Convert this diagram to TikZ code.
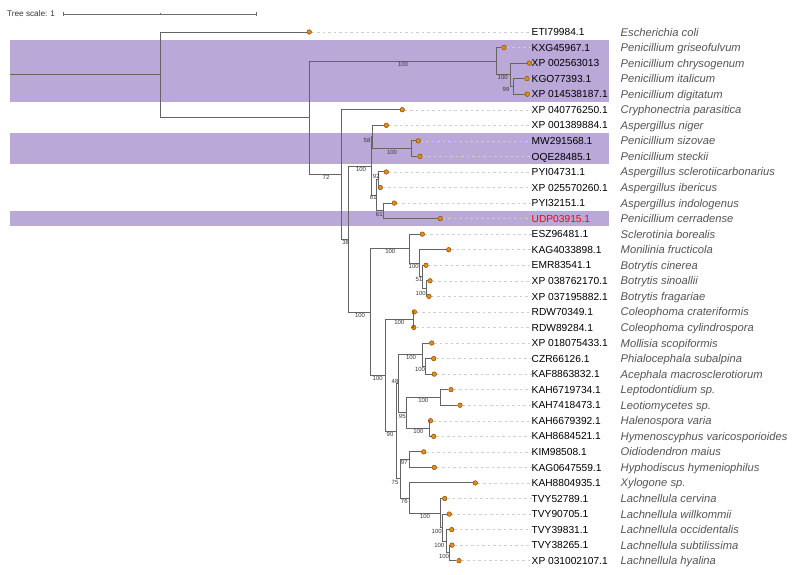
\documentclass[tikz,border=0pt]{standalone}
\usepackage{fontspec}
\setmainfont{Liberation Sans}
\definecolor{treegrey}{RGB}{100,100,100}
\definecolor{dotorange}{RGB}{228,140,22}
\definecolor{dotedge}{RGB}{125,72,0}
\definecolor{leadgrey}{RGB}{205,205,205}
\definecolor{spgrey}{RGB}{85,85,85}
\definecolor{bsgrey}{RGB}{55,55,55}
\definecolor{bandpurple}{RGB}{185,168,216}
\definecolor{scalegrey}{RGB}{110,110,110}
\begin{document}
\begin{tikzpicture}[x=1pt,y=-1pt,
  br/.style={draw=treegrey, line width=1pt},
  leafdot/.style={circle, inner sep=0pt, minimum size=4.6pt, fill=dotorange, draw=dotedge, line width=0.45pt},
  leader/.style={draw=leadgrey, line width=0.5pt, dash pattern=on 2.5pt off 3pt},
  idlab/.style={anchor=base west, inner sep=0pt, font=\fontsize{10.2}{12}\selectfont},
  splab/.style={anchor=base west, inner sep=0pt, font=\fontsize{11.2}{13}\selectfont\itshape, text=spgrey},
  bs/.style={inner sep=0pt, font=\fontsize{6}{6}\selectfont, text=bsgrey},
  band/.style={fill=bandpurple, draw=none},
  scalebar/.style={draw=scalegrey, line width=0.6pt}]
\useasboundingbox[fill=white] (0,0) rectangle (797,574);

% highlighted bands
\fill[band] (10,39.8) rectangle (609.3,102.0);
\fill[band] (10,133.1) rectangle (609.3,164.2);
\fill[band] (10,210.8) rectangle (609.3,226.4);

% tree scale
\node[anchor=west, inner sep=0pt, font=\fontsize{8.2}{10}\selectfont, text=bsgrey] (ts) at (7,14) {Tree scale: 1};
\coordinate (sb0) at (63,14);
\coordinate (sb1) at (256.7,14);
\draw[scalebar] (sb0) -- (sb1);
\draw[scalebar] (63,12) -- (63,16);
\draw[scalebar] (256.7,12) -- (256.7,16);
\draw[scalebar] (160,13.2) -- (160,14.8);

% leaves
\foreach \i/\x/\cc/\idt/\spt in {
0/309.3/black/ETI79984.1/Escherichia coli,
1/504/black/KXG45967.1/Penicillium griseofulvum,
2/529.5/black/XP 002563013/Penicillium chrysogenum,
3/527/black/KGO77393.1/Penicillium italicum,
4/527.3/black/XP 014538187.1/Penicillium digitatum,
5/402.3/black/XP 040776250.1/Cryphonectria parasitica,
6/386.3/black/XP 001389884.1/Aspergillus niger,
7/418.3/black/MW291568.1/Penicillium sizovae,
8/420/black/OQE28485.1/Penicillium steckii,
9/386.3/black/PYI04731.1/Aspergillus sclerotiicarbonarius,
10/380.3/black/XP 025570260.1/Aspergillus ibericus,
11/394.3/black/PYI32151.1/Aspergillus indologenus,
12/440.3/red/UDP03915.1/Penicillium cerradense,
13/422.3/black/ESZ96481.1/Sclerotinia borealis,
14/448.7/black/KAG4033898.1/Monilinia fructicola,
15/426/black/EMR83541.1/Botrytis cinerea,
16/430/black/XP 038762170.1/Botrytis sinoallii,
17/429/black/XP 037195882.1/Botrytis fragariae,
18/414.3/black/RDW70349.1/Coleophoma crateriformis,
19/413.8/black/RDW89284.1/Coleophoma cylindrospora,
20/431.7/black/XP 018075433.1/Mollisia scopiformis,
21/433.7/black/CZR66126.1/Phialocephala subalpina,
22/434.3/black/KAF8863832.1/Acephala macrosclerotiorum,
23/451/black/KAH6719734.1/Leptodontidium sp.,
24/460/black/KAH7418473.1/Leotiomycetes sp.,
25/430.5/black/KAH6679392.1/Halenospora varia,
26/433.7/black/KAH8684521.1/Hymenoscyphus varicosporioides,
27/423.7/black/KIM98508.1/Oidiodendron maius,
28/434.3/black/KAG0647559.1/Hyphodiscus hymeniophilus,
29/475.3/black/KAH8804935.1/Xylogone sp.,
30/444.7/black/TVY52789.1/Lachnellula cervina,
31/449.3/black/TVY90705.1/Lachnellula willkommii,
32/451.7/black/TVY39831.1/Lachnellula occidentalis,
33/452/black/TVY38265.1/Lachnellula subtilissima,
34/459/black/XP 031002107.1/Lachnellula hyalina}{
  \pgfmathsetmacro\yy{32+15.55*\i}
  \node[leafdot] (l\i) at (\x,\yy) {};
  \node[idlab, text=\cc] (id\i) at (531.5,\yy+3.65) {\idt};
  \node[splab] (sp\i) at (620.5,\yy+4.0) {\spt};
  \draw[leader] (l\i) -- (l\i -| id\i.west);
}

% internal nodes
\coordinate (r0) at (10,74.9);
\coordinate (root) at (160,74.9);
\coordinate (nA) at (309.3,117.8);
\coordinate (nP2) at (496,61.15);
\coordinate (nP3) at (510,74.75);
\coordinate (nP4) at (513.3,86.4);
\coordinate (n72) at (341.7,174.4);
\coordinate (n38) at (348.3,239.1);
\coordinate (nN1) at (371.7,166.1);
\coordinate (nN2) at (372.6,136.95);
\coordinate (nSz) at (411.7,148.6);
\coordinate (nN3) at (376.7,195.25);
\coordinate (nN4) at (378.3,179.7);
\coordinate (nN5) at (383.3,210.8);
\coordinate (nL) at (370,312.1);
\coordinate (nScl) at (409,248.7);
\coordinate (nNb) at (419.3,263.3);
\coordinate (nNc) at (422.7,276.9);
\coordinate (nNd) at (426.7,288.6);
\coordinate (nM) at (385,375.5);
\coordinate (nRDW) at (413,319.7);
\coordinate (n90) at (396,431.3);
\coordinate (n48) at (398.3,383.8);
\coordinate (nMol) at (422.7,354.65);
\coordinate (nPhi) at (425,366.3);
\coordinate (n95) at (406.7,412.95);
\coordinate (nLep) at (440.3,397.4);
\coordinate (nHal) at (429.8,428.5);
\coordinate (n75) at (400,478.8);
\coordinate (n97) at (409,459.6);
\coordinate (n76) at (409,498.0);
\coordinate (nLA) at (440.3,513.1);
\coordinate (nLB) at (442.3,527.65);
\coordinate (nLC) at (446,541.25);
\coordinate (nLD) at (449.5,552.9);

% branches
\draw[br] (r0) -- (root);
\foreach \p/\c in {root/l0, root/nA, nA/nP2, nA/n72, nP2/l1, nP2/nP3, nP3/l2, nP3/nP4, nP4/l3, nP4/l4,
  n72/l5, n72/n38, n38/nN1, n38/nL, nN1/nN2, nN1/nN3, nN2/l6, nN2/nSz, nSz/l7, nSz/l8,
  nN3/nN4, nN3/nN5, nN4/l9, nN4/l10, nN5/l11, nN5/l12,
  nL/nScl, nL/nM, nScl/l13, nScl/nNb, nNb/l14, nNb/nNc, nNc/l15, nNc/nNd, nNd/l16, nNd/l17,
  nM/nRDW, nM/n90, nRDW/l18, nRDW/l19, n90/n48, n90/n75, n48/nMol, n48/n95, nMol/l20, nMol/nPhi,
  nPhi/l21, nPhi/l22, n95/nLep, n95/nHal, nLep/l23, nLep/l24, nHal/l25, nHal/l26,
  n75/n97, n75/n76, n97/l27, n97/l28, n76/l29, n76/nLA, nLA/l30, nLA/nLB, nLB/l31, nLB/nLC,
  nLC/l32, nLC/nLD, nLD/l33, nLD/l34}{
  \draw[br] (\p) |- (\c);
}

% bootstrap values
\foreach \k/\bx/\by/\v in {
1/403/64.5/100, 2/502.7/77.6/100, 3/506/89.5/99, 4/326/177.6/72, 5/367/140.2/58,
6/361/169.2/100, 7/392/152/100, 8/376.3/176.5/92, 9/373.3/197.9/61, 10/379.3/214/61,
11/345.7/242.2/38, 12/360/315.2/100, 13/390.3/251.9/100, 14/413.7/266.8/100, 15/419/279.5/51,
16/420.7/293.3/100, 17/377.7/378.5/100, 18/399.3/322.9/100, 19/390/434.5/90, 20/395/381.2/48,
21/411/357.8/100, 22/420/369.5/100, 23/402.3/416.2/95, 24/423.3/400.8/100, 25/418.3/431.2/100,
26/404.3/462.8/97, 27/395/482.4/75, 28/404.3/501.8/76, 29/425/516.8/100, 30/436.7/531/100,
31/439.3/545.2/100, 32/444/556.8/100}{
  \node[bs] (b\k) at (\bx,\by) {\v};
}
\end{tikzpicture}
\end{document}
